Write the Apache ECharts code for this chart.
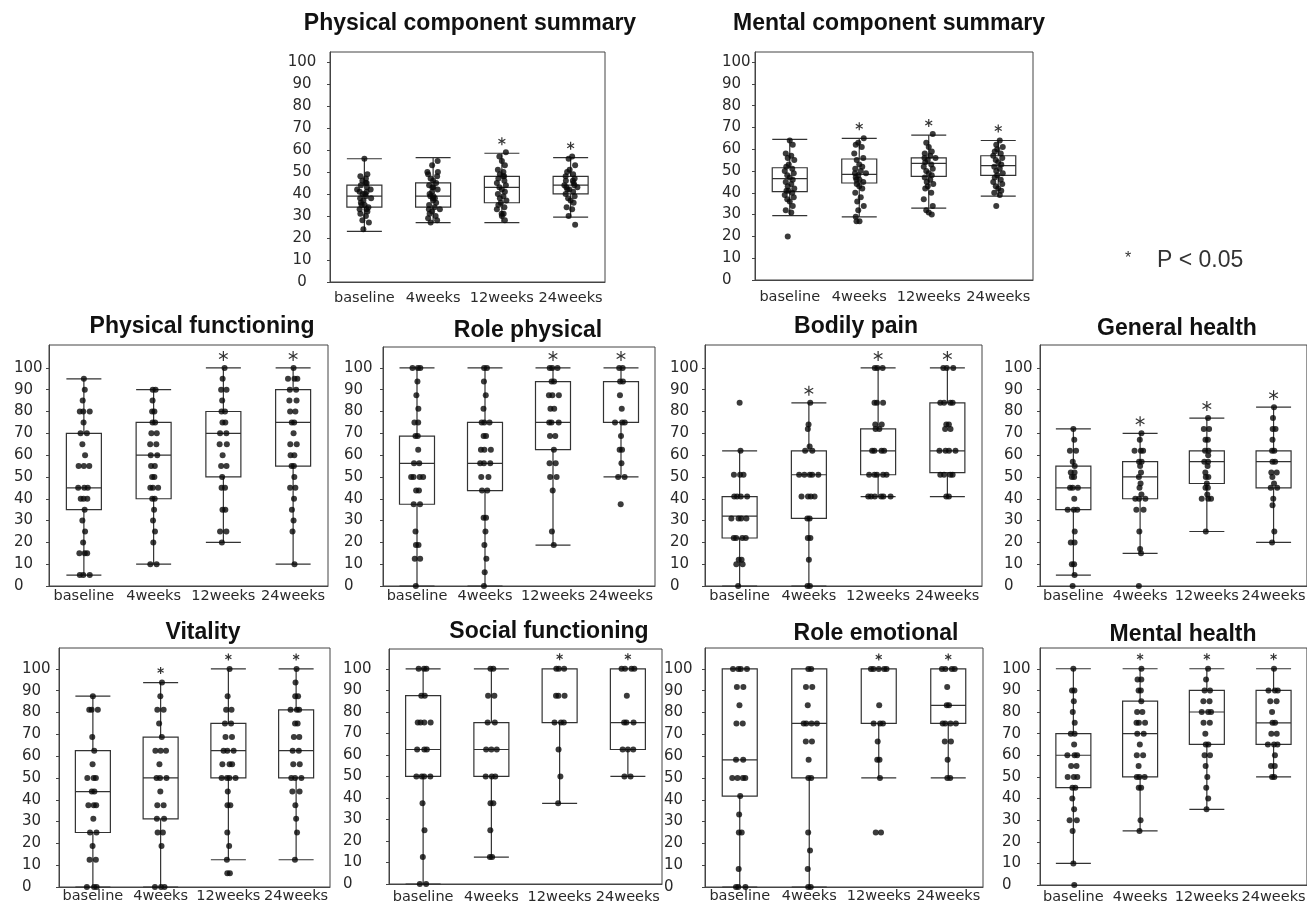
<!DOCTYPE html>
<html><head><meta charset="utf-8">
<script src="https://cdn.jsdelivr.net/npm/echarts@6/dist/echarts.min.js"></script>
<style>html,body{margin:0;padding:0;background:#fff}#c{width:1307px;height:905px}</style>
</head><body><div id="c"></div><script>
// ---------- data ----------
const categories = ['baseline', '4weeks', '12weeks', '24weeks'];
const yTicks = [0, 10, 20, 30, 40, 50, 60, 70, 80, 90, 100];
const titles = ['Physical component summary', 'Mental component summary',
  'Physical functioning', 'Role physical', 'Bodily pain', 'General health',
  'Vitality', 'Social functioning', 'Role emotional', 'Mental health'];
const legendLabel = 'P < 0.05';

// box stats: [lower whisker, Q1, median, Q3, upper whisker]
const pcsBox = [[23,34,39,44,56],[27,34,39,45,56.5],[27,36,43,48,58.5],[29.5,40,44,48,56.5]];
const mcsBox = [[29.5,40.5,46.5,51.5,64.5],[29,44.5,48.5,55.5,65],[33,47.5,53.5,56,66.5],[38.5,48,52.5,57,64]];
const pfBox  = [[5,35,45,70,95],[10,40,60,75,90],[20,50,70,80,100],[10,55,75,90,100]];
const rpBox  = [[0,37.5,56.25,68.75,100],[0,43.75,56.25,75,100],[18.75,62.5,75,93.75,100],[50,75,75,93.75,100]];
const bpBox  = [[0,22,32,41,62],[0,31,51,62,84],[41,51,62,72,100],[41,52,62,84,100]];
const ghBox  = [[5,35,45,55,72],[15,40,50,57,70],[25,47,57,62,77],[20,45,57,62,82]];
const vitBox = [[0,25,43.75,62.5,87.5],[0,31.25,50,68.75,93.75],[12.5,50,62.5,75,100],[12.5,50,62.5,81.25,100]];
const sfBox  = [[0,50,62.5,87.5,100],[12.5,50,62.5,75,100],[37.5,75,100,100,100],[50,62.5,75,100,100]];
const reBox  = [[0,41.7,58.3,100,100],[0,50,75,100,100],[50,75,100,100,100],[50,75,83.3,100,100]];
const mhBox  = [[10,45,60,70,100],[25,50,70,85,100],[35,65,80,90,100],[50,65,75,90,100]];

// individual observations per time point
const pcsPts = [
  [56,49,48,47,46,45,45,44,43,42,42,41,41,40,40,39,38,38,37,36,35,35,34,33,33,32,31,30,28,27,24],
  [55,53,50,50,49,48,47,46,45,44,43,43,42,41,40,39,39,38,38,37,36,35,34,33,33,32,31,30,29,28,27],
  [59,57,55,53,51,50,49,48,48,47,46,45,44,43,42,41,40,39,38,37,36,35,34,33,31,31,30,28],
  [57,56,53,51,50,49,48,47,46,46,45,44,44,43,43,42,42,41,40,39,38,37,36,34,33,30,26]];
const mcsPts = [
  [64,62,58,57,56,55,53,52,51,50,49,48,47,46,45,44,43,42,41,41,40,39,38,37,36,34,32,31,20],
  [65,63,62,61,58,56,55,53,52,51,50,49,49,48,47,46,46,45,44,43,42,40,38,36,34,32,29,27,27],
  [67,63,61,59,58,57,56,56,55,54,53,52,51,50,49,48,47,46,45,44,43,42,40,37,34,32,31,30],
  [64,62,61,60,59,58,57,56,55,54,53,52,51,50,49,48,47,46,45,44,43,42,41,40,39,34]];
const pfPts = [
  [95,90,85,80,80,80,75,70,70,65,60,55,55,55,45,45,45,40,40,40,35,30,25,20,15,15,15,5,5,5],
  [90,90,85,80,80,75,75,70,70,65,65,60,60,55,55,50,50,45,45,45,40,40,35,30,25,20,10,10],
  [100,95,90,90,85,80,80,75,75,70,70,65,65,60,55,55,50,45,45,35,35,25,25,20],
  [100,95,95,95,90,90,85,85,80,80,75,75,70,65,65,60,60,55,55,50,45,45,40,35,30,25,10]];
const rpPts = [
  [100,100,100,93.75,87.5,81.25,75,75,68.75,68.75,62.5,56.25,56.25,50,50,50,50,43.75,43.75,37.5,37.5,25,18.75,18.75,12.5,12.5,0],
  [100,100,93.75,87.5,81.25,75,75,75,68.75,68.75,62.5,62.5,62.5,56.25,56.25,56.25,50,50,43.75,43.75,31.25,31.25,25,18.75,12.5,6.25,0],
  [100,100,100,93.75,93.75,87.5,87.5,87.5,81.25,81.25,75,75,75,68.75,68.75,62.5,56.25,56.25,50,50,43.75,25,18.75],
  [100,100,93.75,93.75,87.5,81.25,75,75,75,68.75,62.5,62.5,56.25,50,50,37.5]];
const bpPts = [
  [84,62,51,51,51,41,41,41,41,31,31,31,31,22,22,22,22,12,12,10,10,0],
  [84,74,72,64,62,62,51,51,51,51,51,41,41,41,41,31,31,22,22,12,0,0],
  [100,100,100,84,84,84,74,74,72,72,62,62,62,62,51,51,51,51,51,41,41,41,41,41,41],
  [100,100,100,84,84,84,84,74,74,72,72,62,62,62,62,51,51,51,51,41,41]];
const ghPts = [
  [72,67,62,62,57,55,52,52,50,50,45,45,45,40,35,35,35,25,20,20,10,10,5,0],
  [70,67,62,62,62,57,57,55,52,50,47,45,42,40,40,40,35,35,25,17,15,0],
  [77,72,72,67,67,62,62,60,57,57,55,52,50,50,47,45,45,42,40,40,40,25],
  [82,77,72,72,67,62,62,57,57,52,52,50,47,45,45,40,37,25,20]];
const vitPts = [
  [87.5,81.25,81.25,81.25,68.75,62.5,56.25,50,50,50,43.75,43.75,37.5,37.5,37.5,31.25,25,25,18.75,12.5,12.5,0,0,0],
  [93.75,87.5,81.25,81.25,75,68.75,62.5,62.5,62.5,56.25,50,50,50,43.75,37.5,37.5,31.25,31.25,25,25,18.75,0,0,0],
  [100,87.5,81.25,81.25,75,75,68.75,68.75,62.5,62.5,62.5,56.25,56.25,56.25,50,50,50,50,43.75,37.5,37.5,25,18.75,12.5,6.25,6.25],
  [100,93.75,87.5,87.5,81.25,81.25,81.25,75,75,68.75,68.75,62.5,62.5,56.25,56.25,50,50,50,43.75,43.75,37.5,31.25,25,12.5]];
const sfPts = [
  [100,100,100,87.5,87.5,75,75,75,75,62.5,62.5,62.5,50,50,50,50,37.5,25,12.5,0,0],
  [100,100,87.5,87.5,75,75,62.5,62.5,62.5,50,50,50,37.5,37.5,25,12.5,12.5],
  [100,100,100,87.5,87.5,87.5,75,75,75,62.5,50,37.5],
  [100,100,100,100,87.5,75,75,75,62.5,62.5,62.5,50,50]];
const rePts = [
  [100,100,100,100,91.7,91.7,83.3,75,75,58.3,58.3,50,50,50,50,41.7,33.3,25,25,8.3,0,0,0],
  [100,100,91.7,91.7,83.3,75,75,75,75,66.7,66.7,58.3,50,50,25,16.7,8.3,0,0],
  [100,100,100,100,100,83.3,75,75,75,66.7,58.3,58.3,50,25,25],
  [100,100,100,100,91.7,83.3,83.3,75,75,75,75,66.7,66.7,58.3,50,50]];
const mhPts = [
  [100,90,90,85,80,75,70,70,65,60,60,60,55,55,50,50,50,45,45,40,35,30,30,25,10,0],
  [100,95,95,90,90,85,80,80,75,75,75,70,70,65,60,60,55,50,50,50,45,45,30,25],
  [100,95,90,90,85,85,80,80,80,75,75,70,65,65,60,60,55,50,45,40,35],
  [100,90,90,90,85,85,80,75,75,70,70,65,65,65,60,55,55,50,50]];

// significance vs baseline (P < 0.05)
const pcsSig = [0,0,1,1], mcsSig = [0,1,1,1], pfSig = [0,0,1,1], rpSig = [0,0,1,1], bpSig = [0,1,1,1];
const ghSig = [0,1,1,1], vitSig = [0,1,1,1], sfSig = [0,0,1,1], reSig = [0,0,1,1], mhSig = [0,1,1,1];

const boxes = [pcsBox, mcsBox, pfBox, rpBox, bpBox, ghBox, vitBox, sfBox, reBox, mhBox];
const points = [pcsPts, mcsPts, pfPts, rpPts, bpPts, ghPts, vitPts, sfPts, rePts, mhPts];
const sigs = [pcsSig, mcsSig, pfSig, rpSig, bpSig, ghSig, vitSig, sfSig, reSig, mhSig];

// ---------- layout (positions / styles only) ----------
const layout = [
  {l:330, t:52,  w:275, h:230, ymax:104.5, tx:470,  ty:23.5, ya:'center', ym:28, xm:9, ss:8,  jit:5},
  {l:755, t:52,  w:278, h:228, ymax:104.6, tx:889,  ty:23.5, ya:'left',   ym:33, xm:10, ss:8, jit:5},
  {l:49,  t:345, w:279, h:241, ymax:110.5, tx:202,  ty:326.5, ya:'left',  ym:35, xm:3, ss:10, jit:1.5},
  {l:383, t:347, w:272, h:239, ymax:109.6, tx:528,  ty:331, ya:'left',    ym:39, xm:3, ss:10, jit:1.5},
  {l:705, t:345, w:277, h:241, ymax:110.5, tx:856,  ty:327, ya:'left',    ym:35, xm:3, ss:10, jit:1.5},
  {l:1040,t:345, w:280, h:241, ymax:110.5, tx:1177, ty:329, ya:'left',    ym:36, xm:3, ss:10, jit:1.5},
  {l:59,  t:648, w:271, h:239, ymax:109.6, tx:203,  ty:632.5, ya:'left',  ym:37, xm:2, ss:7, jit:1.5},
  {l:389, t:649, w:273, h:238, ymax:109.2, tx:549,  ty:632, ya:'left',    ym:46, xm:6, ss:7, jit:1.5},
  {l:705, t:648, w:278, h:239, ymax:109.6, tx:876,  ty:634, ya:'left',    ym:41, xm:2, ss:7, jit:1.5},
  {l:1040,t:648, w:280, h:239, ymax:109.6, tx:1183, ty:635, ya:'left',    ym:38, xm:5, ss:7, jit:1.5}
];
const jitterPattern = [0, 0.6, -0.8, 0.3, -0.4, 0.9, -0.2, -0.7, 0.5, -1, 0.8, -0.5];
const lineCol = '#333';
const frameCol = '#444';
const labelFont = {fontFamily: 'DejaVu Sans', color: '#2a2a2a'};

const grids = [], xAxes = [], yAxes = [], series = [], graphics = [];

layout.forEach((L, i) => {
  grids.push({left: L.l, top: L.t, width: L.w, height: L.h, show: true,
    borderColor: frameCol, borderWidth: 1, backgroundColor: 'rgba(0,0,0,0)'});
  xAxes.push({type: 'category', gridIndex: i, data: categories, boundaryGap: true,
    axisLine: {show: true, lineStyle: {color: frameCol}}, axisTick: {show: false},
    axisLabel: Object.assign({interval: 0, margin: L.xm, fontSize: 14.5}, labelFont),
    splitLine: {show: false}});
  yAxes.push({type: 'value', gridIndex: i, min: 0, max: L.ymax,
    axisLine: {show: true, lineStyle: {color: frameCol}},
    axisTick: {show: true, length: 3, customValues: yTicks, lineStyle: {color: frameCol}},
    axisLabel: Object.assign({customValues: yTicks, align: L.ya, margin: L.ym, fontSize: 15}, labelFont),
    splitLine: {show: false}});

  series.push({type: 'boxplot', xAxisIndex: i, yAxisIndex: i, data: boxes[i],
    boxWidth: [35, 35], silent: true, z: 2,
    itemStyle: {color: 'rgba(255,255,255,0)', borderColor: lineCol, borderWidth: 1.2}});

  const pts = [];
  points[i].forEach((vals, gi) => {
    const counts = {}, seen = {};
    vals.forEach(v => counts[v] = (counts[v] || 0) + 1);
    vals.forEach((v, k) => {
      seen[v] = seen[v] === undefined ? 0 : seen[v] + 1;
      const dx = (seen[v] - (counts[v] - 1) / 2) * 4.5 + jitterPattern[(k + gi * 5) % jitterPattern.length] * L.jit;
      pts.push({value: [gi, v], symbolOffset: [dx, 0]});
    });
  });
  series.push({type: 'scatter', xAxisIndex: i, yAxisIndex: i, data: pts, symbol: 'circle',
    symbolSize: 6, silent: true, z: 3, itemStyle: {color: '#0a0a0a'}});

  const starData = [];
  sigs[i].forEach((s, gi) => { if (s) starData.push([gi, boxes[i][gi][4]]); });
  series.push({type: 'custom', xAxisIndex: i, yAxisIndex: i, data: starData, silent: true, z: 4,
    renderItem: (params, api) => {
      const p = api.coord([api.value(0), api.value(1)]);
      const r = L.ss / 2, cx = p[0], cy = p[1] - 12;
      const dx = r * 0.866, dy = r * 0.5;
      const st = {stroke: '#333', lineWidth: 1.2};
      return {type: 'group', children: [
        {type: 'line', shape: {x1: cx, y1: cy - r, x2: cx, y2: cy + r}, style: st},
        {type: 'line', shape: {x1: cx - dx, y1: cy - dy, x2: cx + dx, y2: cy + dy}, style: st},
        {type: 'line', shape: {x1: cx - dx, y1: cy + dy, x2: cx + dx, y2: cy - dy}, style: st}
      ]};
    }});

  graphics.push({type: 'text', x: L.tx, y: L.ty, silent: true,
    style: {text: titles[i], fill: '#111', font: 'bold 23px "Liberation Sans", Arial, sans-serif',
      align: 'center', verticalAlign: 'middle', textAlign: 'center', textVerticalAlign: 'middle'}});
});

graphics.push({type: 'text', x: 1128, y: 259, silent: true,
  style: {text: '*', fill: '#333', font: '16px "Liberation Sans", Arial, sans-serif',
    align: 'center', verticalAlign: 'middle', textAlign: 'center', textVerticalAlign: 'middle'}});
graphics.push({type: 'text', x: 1157, y: 261, silent: true,
  style: {text: legendLabel, fill: '#333', font: '23px "Liberation Sans", Arial, sans-serif',
    align: 'left', verticalAlign: 'middle', textAlign: 'left', textVerticalAlign: 'middle'}});

const chart = echarts.init(document.getElementById('c'), null, {renderer: 'canvas'});
chart.setOption({
  animation: false,
  backgroundColor: '#fff',
  grid: grids, xAxis: xAxes, yAxis: yAxes, series: series, graphic: graphics
});
</script></body></html>
